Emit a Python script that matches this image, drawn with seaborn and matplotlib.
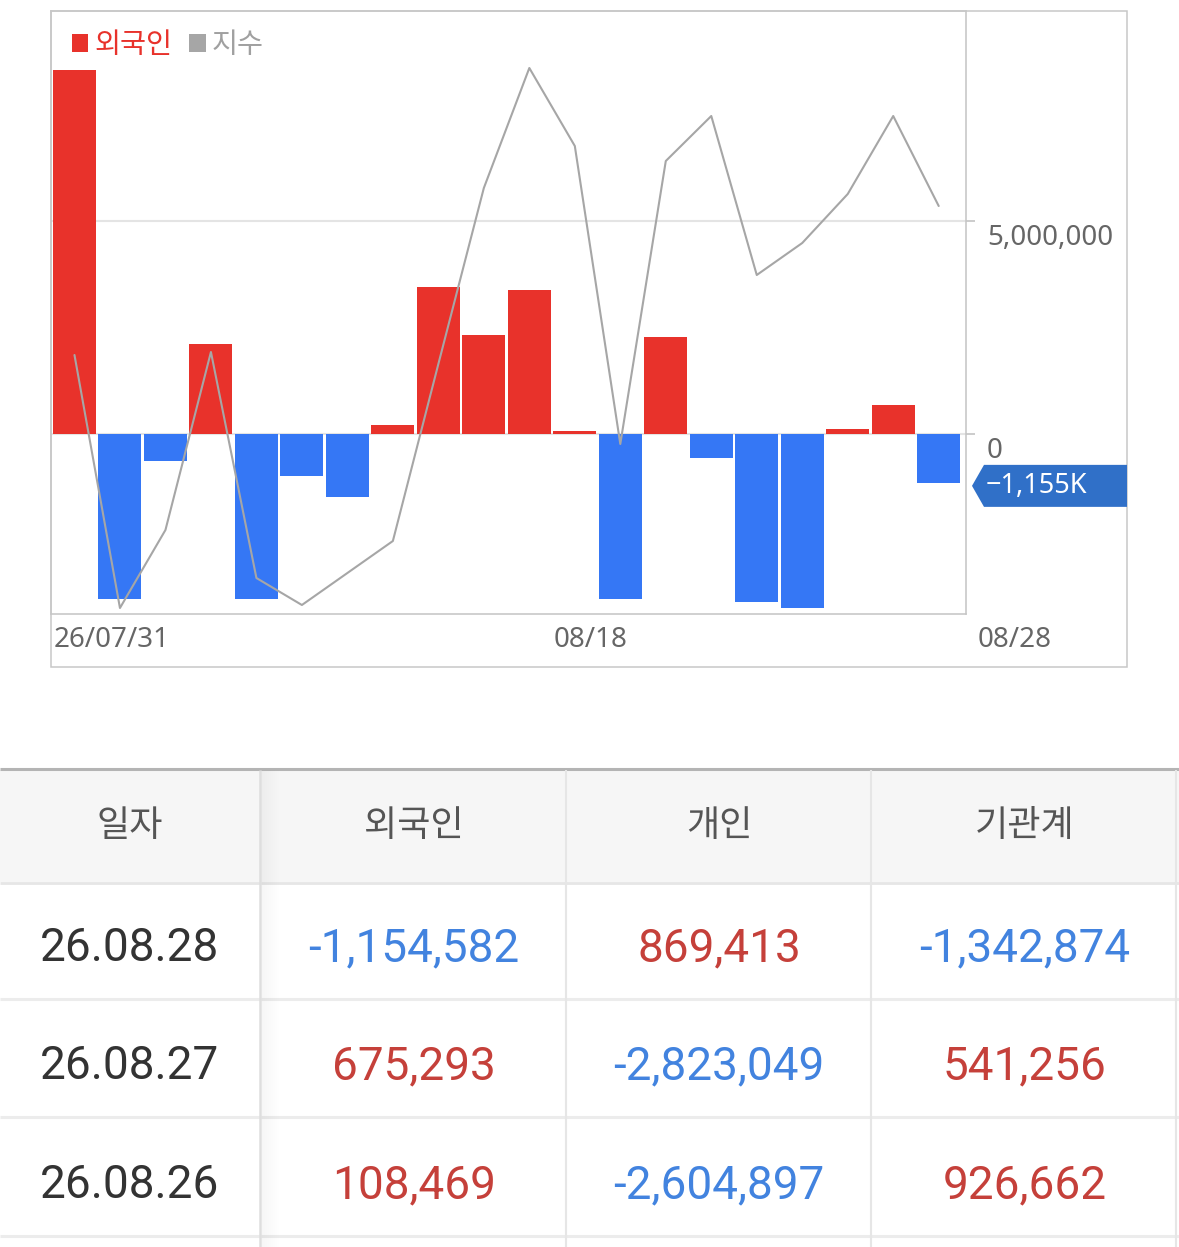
import numpy as np
import pandas as pd
import matplotlib
matplotlib.use('Agg')
import matplotlib.pyplot as plt
import matplotlib.transforms as mtransforms
import seaborn as sns
from matplotlib.patches import Patch, Rectangle, Polygon

# chart data: foreign net buying (shares) and index line, 26/07/31 ~ 08/28
dates = ['07/31', '08/03', '08/04', '08/05', '08/06', '08/07', '08/10', '08/11',
         '08/12', '08/13', '08/14', '08/18', '08/19', '08/20', '08/21', '08/24',
         '08/25', '08/26', '08/27', '08/28']
foreign = [8540000, -3880000, -630000, 2110000, -3880000, -990000, -1480000, 200000,
           3450000, 2330000, 3380000, 60000, -3880000, 2270000, -560000, -3950000,
           -4090000, 108469, 675293, -1154582]
index_vals = [3129.5, 3003, 3042, 3131, 3018, 3004.5, 3020.5, 3036.5, 3125, 3213,
              3273, 3234, 3085, 3226.5, 3249, 3169.5, 3185.5, 3210, 3249, 3204]
xtick_labels = ['26/07/31', '08/18', '08/28']
legend_labels = ['외국인', '지수']
yticks = [0, 5000000]

# table data (latest three days)
tbl_header = ['일자', '외국인', '개인', '기관계']
tbl_dates = ['26.08.28', '26.08.27', '26.08.26']
tbl_foreign = [-1154582, 675293, 108469]
tbl_individual = [869413, -2823049, -2604897]
tbl_inst = [-1342874, 541256, 926662]

RED = '#E8322B'
BLUE = '#3577F5'
LINE_GRAY = '#a6a6a6'
TXT_GRAY = '#666666'
TAG_BLUE = '#3070C8'
T_RED = '#C5403A'
T_BLUE = '#4283DF'

sns.set_theme(style='white')
plt.rcParams['font.family'] = ['Noto Sans', 'Noto Sans CJK KR', 'DejaVu Sans']

W, H = 1179, 1247
fig = plt.figure(figsize=(W / 100, H / 100), dpi=100)
fig.patch.set_facecolor('white')

# ---- chart ----
ax = fig.add_axes([51 / W, 1 - 614 / H, 915 / W, 603 / H])
df = pd.DataFrame({'date': dates, 'foreign': foreign})
df['side'] = np.where(df['foreign'] >= 0, 'buy', 'sell')
sns.barplot(data=df, x='date', y='foreign', hue='side', order=dates,
            palette={'buy': RED, 'sell': BLUE}, dodge=False, width=0.945,
            saturation=1, errorbar=None, legend=False, linewidth=0, ax=ax)

ax2 = ax.twinx()
sns.lineplot(x=np.arange(len(index_vals)), y=index_vals, ax=ax2,
             color=LINE_GRAY, linewidth=1.5)
ax2.set_ylim(3000, 3301.5)
ax2.set_axis_off()

ax.set_xlim(-0.516, 19.6)
ax.set_ylim(-4.235e6, 9.93e6)
ax.set_xlabel('')
ax.set_ylabel('')
ax.set_xticks([])

ax.yaxis.tick_right()
ax.set_yticks(yticks)
ax.tick_params(axis='y', right=True, left=False, labelright=False,
               length=6.5, width=1.2, color='#c4c4c4')
ax.yaxis.grid(True, color='#e4e4e4', linewidth=1.5)
ax.xaxis.grid(False)
ax.set_axisbelow(True)
for s in ax.spines.values():
    s.set_color('#c4c4c4')
    s.set_linewidth(1.1)

# value labels sit just below their gridline, right of the plot
ytrans = mtransforms.offset_copy(
    mtransforms.blended_transform_factory(ax.transAxes, ax.transData),
    fig=fig, y=-3, units='dots')
for v in yticks:
    ax.text(1.023, v, f'{v:,}', transform=ytrans, ha='left', va='top',
            fontsize=20, color=TXT_GRAY)

# date labels under the chart
blend = mtransforms.blended_transform_factory(ax.transData, ax.transAxes)
for pos, lab in zip([0 - 0.45, 11 - 0.47, 19 + 0.85], xtick_labels):
    ax.text(pos, -0.043, lab, transform=blend, ha='left', va='center',
            fontsize=20, color=TXT_GRAY)

handles = [Patch(facecolor=RED, edgecolor='none'),
           Patch(facecolor='#a6a6a6', edgecolor='none')]
ax.legend(handles, legend_labels, loc='upper left', ncol=2,
          bbox_to_anchor=(72 / W, 1 - 30 / H), bbox_transform=fig.transFigure,
          frameon=False, borderpad=0, borderaxespad=0, handlelength=0.57,
          handleheight=0.57, handletextpad=0.22, columnspacing=0.6,
          labelcolor=[RED, '#a0a0a0'],
          prop={'family': ['Noto Sans CJK KR', 'DejaVu Sans'], 'size': 20.4})

# ---- overlay in pixel coordinates (frame, tag, table) ----
ov = fig.add_axes([0, 0, 1, 1])
ov.set_xlim(0, W)
ov.set_ylim(H, 0)
ov.axis('off')

ov.add_patch(Rectangle((51, 11), 1076, 656, fill=False, ec='#c8c8c8', lw=1.1))

# last value tag
yv = H - ax.transData.transform((0, foreign[-1]))[1] + 3
tag = [(972, yv), (984, yv - 21), (1127, yv - 21), (1127, yv + 21), (984, yv + 21)]
ov.add_patch(Polygon(tag, closed=True, fc=TAG_BLUE, ec='none'))
tag_text = f'{foreign[-1] / 1000:,.0f}K'.replace('-', '\u2212')
ov.text(986, yv, tag_text, color='white', fontsize=19.5, ha='left', va='center')

# table
col_x = [130, 414, 719, 1025]
row_base = [961, 1079, 1198]
tfont = ['Roboto', 'Noto Sans CJK KR', 'DejaVu Sans']

ov.add_patch(Rectangle((0, 770), W, 112, fc='#f6f6f6', ec='none'))
ov.plot([0, W], [769, 769], color='#b4b4b4', lw=2.2, solid_capstyle='butt')
ov.plot([0, W], [883, 883], color='#e6e6e6', lw=2, solid_capstyle='butt')
for yy in [999, 1117, 1236]:
    ov.plot([0, W], [yy, yy], color='#ececec', lw=2.2, solid_capstyle='butt')
for xx in [566, 871, 1176]:
    ov.plot([xx, xx], [770, H], color='#e6e6e6', lw=1.5, solid_capstyle='butt')
ov.plot([260, 260], [770, H], color='#dedede', lw=1.8, solid_capstyle='butt')
for k in range(18):
    ov.plot([261.5 + k, 261.5 + k], [770, H], color='black',
            alpha=0.035 * (1 - k / 18), lw=0.75, solid_capstyle='butt')

for cx, name in zip(col_x, tbl_header):
    ov.text(cx, 826, name, ha='center', va='center', fontsize=26,
            color='#555555', family=tfont)

for i, d in enumerate(tbl_dates):
    ov.text(col_x[0], row_base[i], d, ha='center', va='baseline', fontsize=33,
            color='#333333', family=tfont)
    for cx, vals in zip(col_x[1:], [tbl_foreign, tbl_individual, tbl_inst]):
        v = vals[i]
        ov.text(cx, row_base[i], f'{v:,}', ha='center', va='baseline',
                fontsize=33, color=T_BLUE if v < 0 else T_RED, family=tfont)

fig.savefig('out.png', dpi=100)
